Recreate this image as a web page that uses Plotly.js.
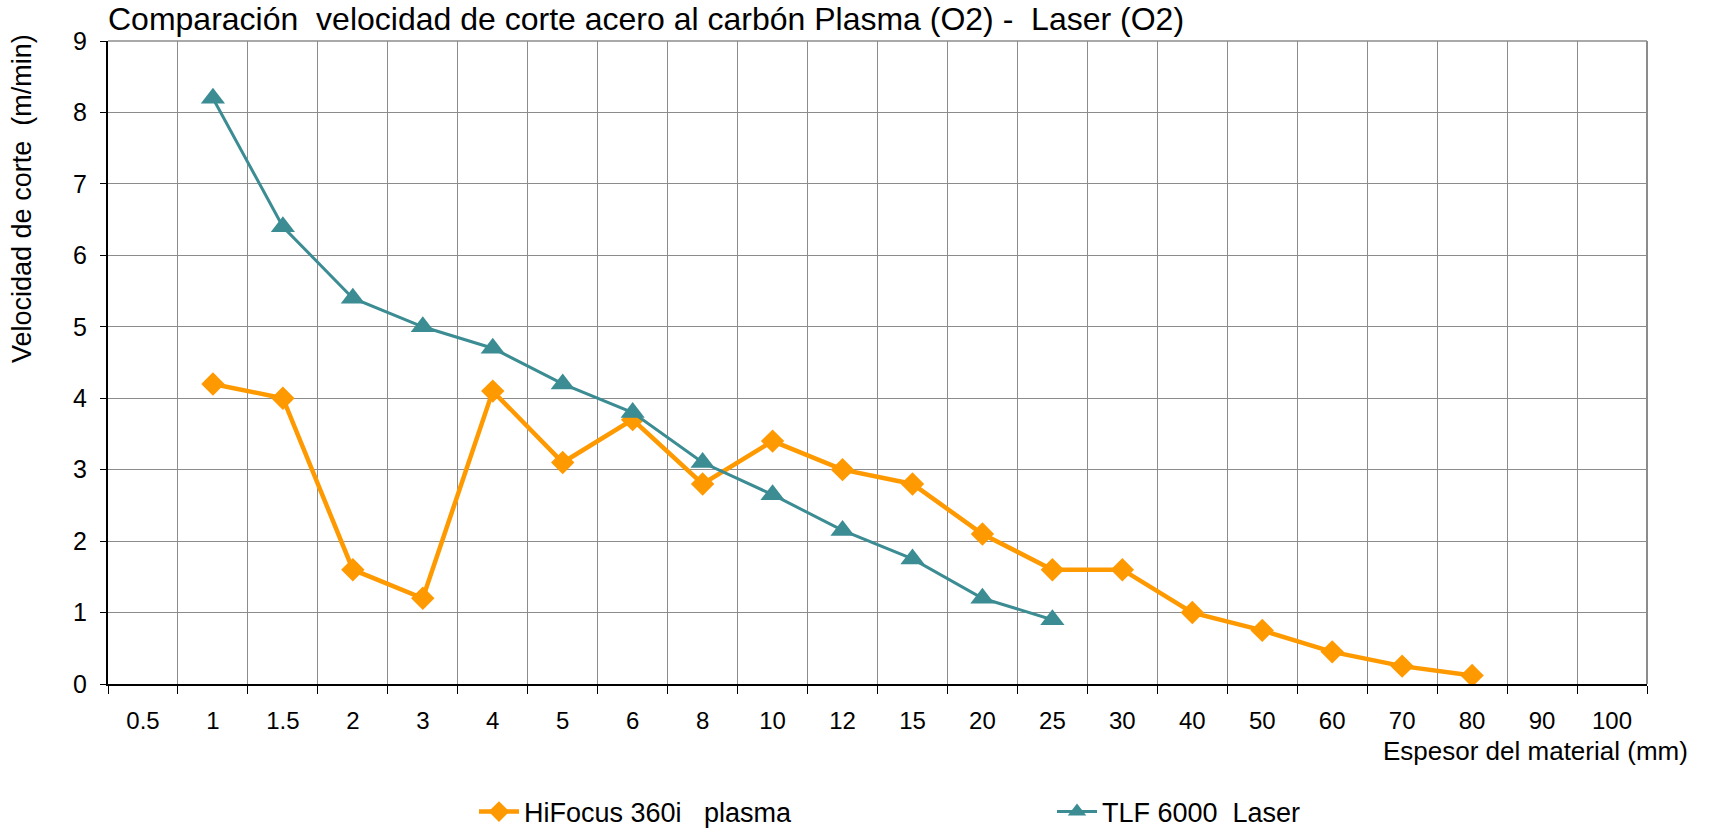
<!DOCTYPE html>
<html>
<head>
<meta charset="utf-8">
<script src="https://cdn.plot.ly/plotly-3.0.1.min.js"></script>
<style>html,body{margin:0;padding:0;background:#fff;}#chart{width:1710px;height:830px;}</style>
</head>
<body>
<div id="chart"></div>
<script>
const categories = ["0.5","1","1.5","2","3","4","5","6","8","10","12","15","20","25","30","40","50","60","70","80","90","100"];
const plasmaX = ["1","1.5","2","3","4","5","6","8","10","12","15","20","25","30","40","50","60","70","80"];
const plasmaY = [4.2,4.0,1.6,1.2,4.1,3.1,3.7,2.8,3.4,3.0,2.8,2.1,1.6,1.6,1.0,0.75,0.45,0.25,0.12];
const laserX = ["1","1.5","2","3","4","5","6","8","10","12","15","20","25"];
const laserY = [8.2,6.4,5.4,5.0,4.7,4.2,3.8,3.1,2.65,2.15,1.75,1.2,0.9];
const plasmaName = "HiFocus 360i   plasma";
const laserName = "TLF 6000  Laser";
const titleText = "Comparación  velocidad de corte acero al carbón Plasma (O2) -  Laser (O2)";
const xTitle = "Espesor del material (mm)";
const yTitle = "Velocidad de corte  (m/min)";

const FONT = "Liberation Sans, Arial, sans-serif";
const ORANGE = "#FF9900";
const TEAL = "#3B8C93";

// plot area in pixels
const PL = 108, PR = 1647, PT = 41, PB = 684;
const px2x = p => (p - PL) / (PR - PL);
const px2y = p => (PB - p) / (PB - PT);

const traces = [
  {x: plasmaX, y: plasmaY, name: plasmaName, type: "scatter", mode: "lines+markers",
   line: {color: ORANGE, width: 4.5}, marker: {symbol: "diamond", size: 18, color: ORANGE},
   legend: "legend"},
  {x: laserX, y: laserY, name: laserName, type: "scatter", mode: "lines+markers",
   line: {color: TEAL, width: 3}, marker: {symbol: "triangle-up", size: 21, color: TEAL},
   legend: "legend2"}
];

const layout = {
  width: 1710, height: 830,
  paper_bgcolor: "#fff", plot_bgcolor: "#fff",
  margin: {l: PL, r: 1710 - PR, t: PT, b: 830 - PB},
  font: {family: FONT, size: 24, color: "#000"},
  title: {text: titleText, font: {family: FONT, size: 32, color: "#000"},
          x: PL/1710, xref: "container", xanchor: "left", y: 1 - 19/830, yref: "container", yanchor: "middle"},
  xaxis: {type: "category", categoryorder: "array", categoryarray: categories,
          range: [-0.5, categories.length - 0.5], tickson: "boundaries",
          showgrid: true, gridcolor: "#8c8c8c", gridwidth: 1,
          ticks: "outside", ticklen: 8, tickcolor: "#000", tickwidth: 1,
          ticklabelstandoff: 14,
          showline: true, linecolor: "#000", linewidth: 2,
          tickfont: {family: FONT, size: 24, color: "#000"}, zeroline: false, fixedrange: true},
  yaxis: {range: [0, 9], dtick: 1, tick0: 0,
          showgrid: true, gridcolor: "#8c8c8c", gridwidth: 1,
          ticks: "outside", ticklen: 6, tickcolor: "#000", tickwidth: 1,
          ticklabelstandoff: 8,
          showline: true, linecolor: "#000", linewidth: 2,
          tickfont: {family: FONT, size: 25, color: "#000"}, zeroline: false, fixedrange: true},
  shapes: [
    {type: "line", xref: "paper", yref: "paper", x0: 1, x1: 1, y0: 0, y1: 1, line: {color: "#8c8c8c", width: 2}},
    {type: "line", xref: "paper", yref: "paper", x0: 0, x1: 1, y0: 1, y1: 1, line: {color: "#8c8c8c", width: 1.5}}
  ],
  annotations: [
    {text: xTitle, xref: "paper", yref: "paper", x: px2x(1690), y: px2y(751),
     xanchor: "right", yanchor: "middle", showarrow: false, font: {family: FONT, size: 26, color: "#000"}},
    {text: yTitle, xref: "paper", yref: "paper", x: px2x(22), y: px2y(199),
     xanchor: "center", yanchor: "middle", textangle: -90, showarrow: false, font: {family: FONT, size: 27, color: "#000"}}
  ],
  showlegend: true,
  legend: {orientation: "h", xref: "container", yref: "container", x: 474/1710, y: 1 - 812/830,
           xanchor: "left", yanchor: "middle", bgcolor: "rgba(0,0,0,0)", font: {family: FONT, size: 27, color: "#000"}, itemwidth: 40},
  legend2: {orientation: "h", xref: "container", yref: "container", x: 1052/1710, y: 1 - 812/830,
           xanchor: "left", yanchor: "middle", bgcolor: "rgba(0,0,0,0)", font: {family: FONT, size: 27, color: "#000"}, itemwidth: 40}
};

Plotly.newPlot("chart", traces, layout, {displayModeBar: false, staticPlot: true});
</script>
</body>
</html>
